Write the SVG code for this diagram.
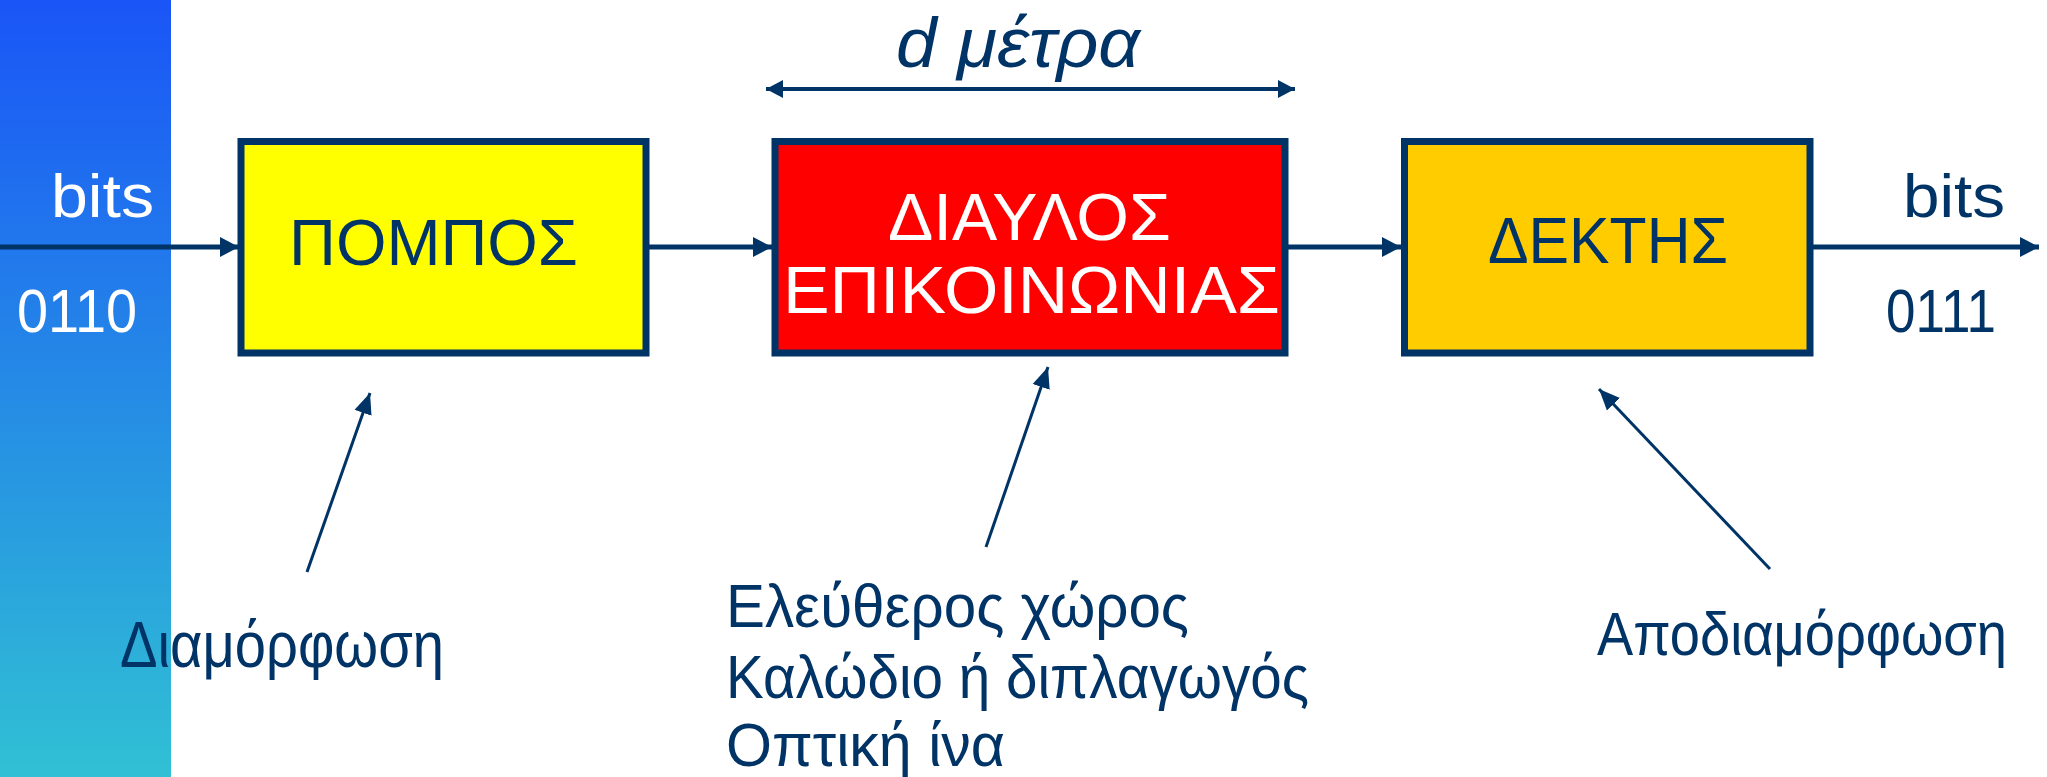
<svg xmlns="http://www.w3.org/2000/svg" width="2047" height="777" viewBox="0 0 2047 777">
<defs>
<linearGradient id="band" x1="0" y1="0" x2="0" y2="1">
<stop offset="0" stop-color="#1a55f7"/>
<stop offset="1" stop-color="#30c0d4"/>
</linearGradient>
<marker id="ah" markerUnits="userSpaceOnUse" markerWidth="20" markerHeight="22" refX="19" refY="11" orient="auto">
<path d="M0,1 L19,11 L0,21 Z" fill="#003366"/>
</marker>
<marker id="ahs" markerUnits="userSpaceOnUse" markerWidth="18" markerHeight="20" refX="17" refY="10" orient="auto-start-reverse">
<path d="M0,1 L17,10 L0,19 Z" fill="#003366"/>
</marker>
<marker id="ahp" markerUnits="userSpaceOnUse" markerWidth="22" markerHeight="20" refX="21" refY="10" orient="auto">
<path d="M0,1 L21,10 L0,19 Z" fill="#003366"/>
</marker>
</defs>
<style>
.box{stroke:#003366;stroke-width:7}
.t{font-family:"Liberation Sans","DejaVu Sans",sans-serif;fill:#003366}
.w{fill:#ffffff}
.main{stroke:#003366;stroke-width:5;fill:none;marker-end:url(#ah)}
.ptr{stroke:#003366;stroke-width:3;fill:none;marker-end:url(#ahp)}
</style>
<rect x="0" y="0" width="2047" height="777" fill="#ffffff"/>
<rect id="band-left" x="0" y="0" width="171" height="777" fill="url(#band)"/>

<g id="connectors">
<path class="main" d="M0,247 L239,247"/>
<path class="main" d="M649,247 L772,247"/>
<path class="main" d="M1288,247 L1401,247"/>
<path class="main" d="M1813,247 L2039,247"/>
<path d="M766,89 L1295,89" stroke="#003366" stroke-width="4" fill="none" marker-start="url(#ahs)" marker-end="url(#ahs)"/>
<path class="ptr" d="M307,572 L370,393"/>
<path class="ptr" d="M986,547 L1048,367"/>
<path class="ptr" d="M1770,569 L1599,389"/>
</g>

<g id="input-label">
<text class="t w" x="51" y="217" font-size="62" textLength="103" lengthAdjust="spacingAndGlyphs">bits</text>
<text class="t w" x="17" y="332" font-size="62" textLength="120" lengthAdjust="spacingAndGlyphs">0110</text>
</g>

<g id="pompos">
<rect class="box" x="241" y="141.5" width="405" height="211.5" fill="#ffff00"/>
<text class="t" x="289" y="265" font-size="64" textLength="289" lengthAdjust="spacingAndGlyphs">ΠΟΜΠΟΣ</text>
</g>

<g id="diaylos">
<rect class="box" x="775" y="141.5" width="510" height="211.5" fill="#ff0000"/>
<text class="t w" x="888" y="240" font-size="67" textLength="283" lengthAdjust="spacingAndGlyphs">ΔΙΑΥΛΟΣ</text>
<text class="t w" x="783" y="313" font-size="67" textLength="497" lengthAdjust="spacingAndGlyphs">ΕΠΙΚΟΙΝΩΝΙΑΣ</text>
</g>

<g id="dektis">
<rect class="box" x="1404.5" y="141.5" width="405.5" height="211.5" fill="#ffcc00"/>
<text class="t" x="1488" y="263" font-size="64" textLength="240" lengthAdjust="spacingAndGlyphs">ΔΕΚΤΗΣ</text>
</g>

<g id="output-label">
<text class="t" x="1903" y="217" font-size="62" textLength="102" lengthAdjust="spacingAndGlyphs">bits</text>
<text class="t" x="1886" y="332" font-size="62" textLength="110" lengthAdjust="spacingAndGlyphs">0111</text>
</g>

<g id="distance">
<text class="t" x="896" y="67" font-size="70" font-style="italic" textLength="244" lengthAdjust="spacingAndGlyphs">d μέτρα</text>
</g>

<g id="modulation">
<text class="t" x="120" y="667" font-size="64" textLength="324" lengthAdjust="spacingAndGlyphs">Διαμόρφωση</text>
</g>

<g id="media">
<text class="t" x="726" y="627" font-size="62" textLength="463" lengthAdjust="spacingAndGlyphs">Ελεύθερος χώρος</text>
<text class="t" x="726" y="698" font-size="62" textLength="583" lengthAdjust="spacingAndGlyphs">Καλώδιο ή διπλαγωγός</text>
<text class="t" x="726" y="766" font-size="62" textLength="279" lengthAdjust="spacingAndGlyphs">Οπτική ίνα</text>
</g>

<g id="demodulation">
<text class="t" x="1597" y="655" font-size="62" textLength="410" lengthAdjust="spacingAndGlyphs">Αποδιαμόρφωση</text>
</g>
</svg>
